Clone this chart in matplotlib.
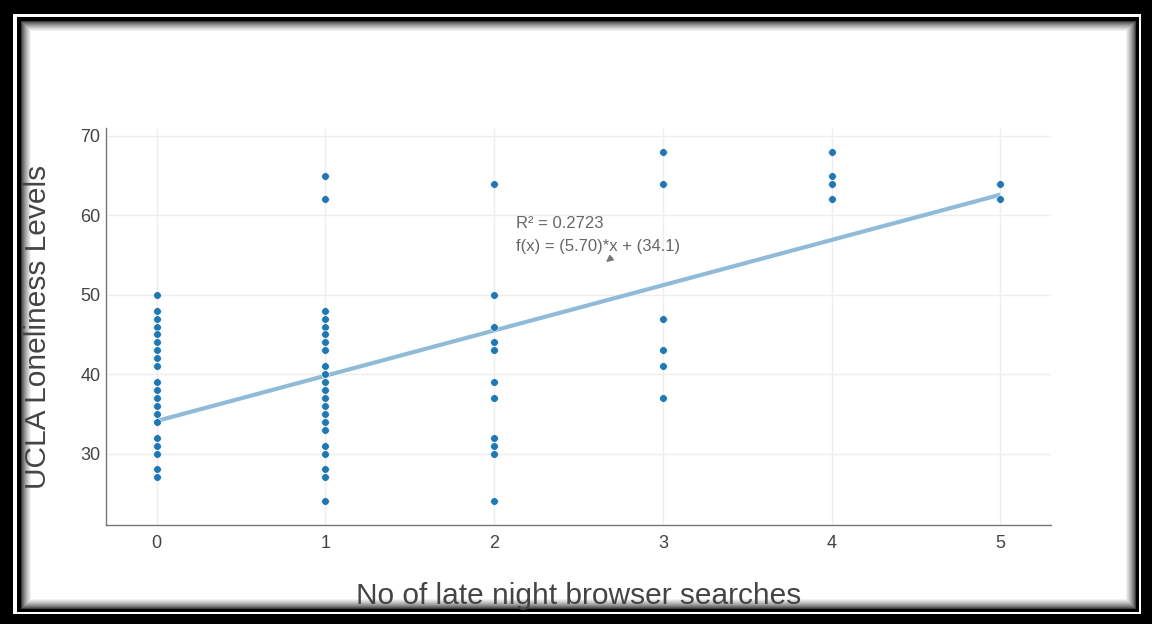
import matplotlib.pyplot as plt
from matplotlib.patches import Rectangle
import numpy as np

plt.rcParams['font.family'] = ['Liberation Sans', 'DejaVu Sans']

# loneliness scores, grouped by number of searches
searches = [0, 1, 2, 3, 4, 5]
lonely_0 = [50, 48, 47, 46, 45, 44, 43, 42, 41, 39, 38, 37, 36, 35, 34, 32, 31, 30, 28, 27]
lonely_1 = [65, 62, 48, 47, 46, 45, 44, 43, 41, 40, 39, 38, 37, 36, 35, 34, 33, 31, 30, 28, 27, 24]
lonely_2 = [64, 50, 46, 44, 43, 39, 37, 32, 31, 30, 24]
lonely_3 = [68, 64, 47, 43, 41, 37]
lonely_4 = [68, 65, 64, 62]
lonely_5 = [64, 62]
groups = [lonely_0, lonely_1, lonely_2, lonely_3, lonely_4, lonely_5]

slope = 5.70
intercept = 34.1
r2 = 0.2723

W, H = 1152, 624
fig = plt.figure(figsize=(W / 100, H / 100), dpi=100, facecolor='black')


def frame(x0, y0, x1, y1, color):
    # pixel box (top-left origin) -> figure fraction rectangle
    r = Rectangle((x0 / W, 1 - y1 / H), (x1 - x0) / W, (y1 - y0) / H,
                  transform=fig.transFigure, facecolor=color, edgecolor='none', zorder=-10)
    fig.patches.append(r)


frame(13, 14, 1141, 614, 'white')
frame(16.5, 17, 1138.5, 611.5, 'black')
# soft inner shadow
for k in range(1, 12):
    g = min(1.0, (k / 11) ** 0.6)
    frame(17 + 3 + k, 17 + 3 + k, 1138 - 1 - k, 611 - 1 - k, str(g))

ax = fig.add_axes([106 / W, 1 - 525 / H, (1051 - 106) / W, (525 - 128) / H])
ax.set_facecolor('white')

xs = np.concatenate([[s] * len(g) for s, g in zip(searches, groups)])
ys = np.concatenate(groups)

xline = np.array([searches[0], searches[-1]])
ax.plot(xline, slope * xline + intercept, color='#8fbbd9', lw=3, zorder=2,
        solid_capstyle='butt')
ax.scatter(xs, ys, s=30, color='#1f77b4', edgecolor='white', linewidth=0.4, zorder=3)

ax.set_xlim(-0.3, 5.3)
ax.set_ylim(21, 71)
ax.set_xticks(searches)
ax.set_yticks([30, 40, 50, 60, 70])
ax.grid(True, color='#eeeeee', lw=1)
ax.set_axisbelow(True)
for side in ['top', 'right']:
    ax.spines[side].set_visible(False)
for side in ['left', 'bottom']:
    ax.spines[side].set_color('#777777')
    ax.spines[side].set_linewidth(1)
ax.tick_params(axis='both', length=0, labelsize=13, labelcolor='#444444')
ax.tick_params(axis='x', pad=7)
ax.tick_params(axis='y', pad=4)

ax.set_xlabel('No of late night browser searches', fontsize=21.5, color='#444444', labelpad=22)
ax.set_ylabel('UCLA Loneliness Levels', fontsize=21.5, color='#444444', labelpad=20)

ax.text(2.13, 59.0, 'R² = 0.2723'.replace('0.2723', f'{r2:.4f}'), fontsize=12,
        color='#666666', va='center', ha='left')
ax.text(2.13, 56.1, f'f(x) = ({slope:.2f})*x + ({intercept:.1f})', fontsize=12,
        color='#666666', va='center', ha='left')
ax.annotate('', xy=(2.65, 53.9), xytext=(2.71, 54.9),
            arrowprops=dict(arrowstyle='-|>', color='#777777', lw=1, mutation_scale=10))

fig.savefig('out.png', dpi=100, facecolor=fig.get_facecolor())
